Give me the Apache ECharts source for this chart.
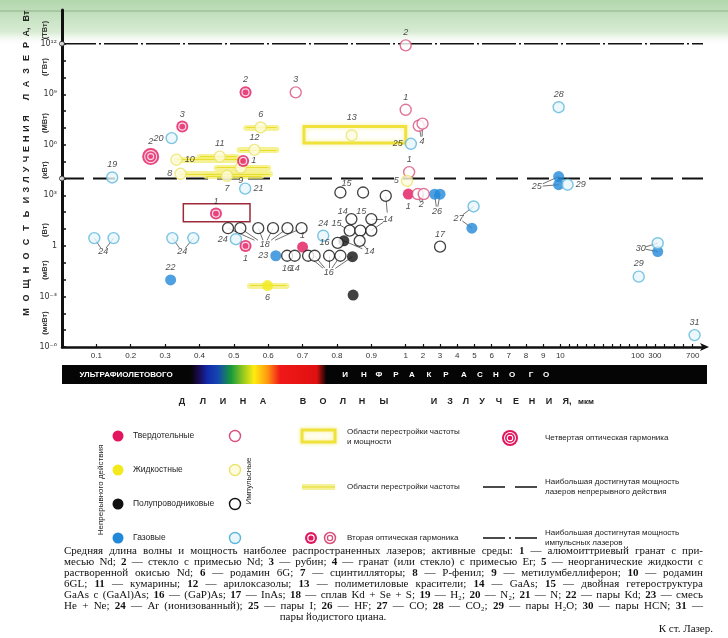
<!DOCTYPE html>
<html><head><meta charset="utf-8">
<script src="https://cdn.jsdelivr.net/npm/echarts@6/dist/echarts.min.js"></script>
<style>html,body{margin:0;padding:0;background:#fff}#c{width:728px;height:638px}</style>
</head><body><div id="c"></div>
<script>
// ================= DATA =================
// x-axis tick labels (wavelength, µm)
const xTickValues = [0.1,0.2,0.3,0.4,0.5,0.6,0.7,0.8,0.9,1,2,3,4,5,6,7,8,9,10,100,300,700];
const xTickLabels = ['0.1','0.2','0.3','0.4','0.5','0.6','0.7','0.8','0.9','1','2','3','4','5','6','7','8','9','10','100','300','700'];
const xMinorTicks = [20,30,40,50,60,70,80,90,200,400,500,600];
// y-axis (power, W)
const yTickValues = [1e-6,1e-3,1,1e3,1e6,1e9,1e12];
const yUnitLabels = ['(мкВт)','(мВт)','(Вт)','(кВт)','(МВт)','(ГВт)','(ТВт)'];
const maxPulsedPower = 1e12;
const maxCwPower = 1e4;

// continuous solid-state (filled)
const cwSolidWl  = [0.70, 1.15];
const cwSolidPow = [0.85, 1200];
const cwSolidId  = ['1', '1'];
// pulsed solid-state (open)
const puSolidWl  = [1.0, 1.0, 1.76, 1.98, 1.2, 1.7, 2.05, 0.68];
const puSolidPow = [8e11, 1.2e8, 1.35e7, 1.8e7, 2.4e4, 1200, 1200, 1.3e9];
const puSolidId  = ['2', '1', '', '', '1', '', '', '3'];
// second optical harmonic
const shgWl  = [0.534, 0.35, 0.527, 0.448, 0.534];
const shgPow = [1.3e9, 1.2e7, 1.1e5, 83, 1.0];
const shgId  = ['2', '3', '1', '1', '1'];
// fourth optical harmonic
const fhgWl  = [0.258];
const fhgPow = [2e5];
const fhgId  = ['2'];
// continuous liquid
const cwLiqWl   = [0.598];
const cwLiqPow  = [4.4e-3];
const cwLiqId   = ['6'];
const cwLiqFrom = [0.547];
const cwLiqTo   = [0.653];
// pulsed liquid
const puLiqWl   = [0.578, 0.459, 0.56, 0.333, 0.345, 0.52, 0.48, 0.843, 1.08];
const puLiqPow  = [1.07e7, 2e5, 5e5, 1.3e5, 1.9e4, 4.4e4, 1.45e4, 3.6e6, 7.2e3];
const puLiqId   = ['6', '11', '12', '10', '8', '9', '7', '', '5'];
const puLiqFrom = [0.536, 0.401, 0.517, 0.333, 0.345, 0.45, 0.42, null, null];
const puLiqTo   = [0.624, 0.508, 0.624, 0.52, 0.605, 0.60, 0.58, null, null];
// regions of frequency + power tuning
const regionId      = ['13', '1'];
const regionWlFrom  = [0.704, 0.353];
const regionWlTo    = [1.0, 0.547];
const regionPowFrom = [1.26e6, 27.5];
const regionPowTo   = [1.23e7, 316];
// continuous semiconductor
const cwSemiWl  = [0.82, 0.845, 0.847];
const cwSemiPow = [2.0, 0.23, 1.2e-3];
const cwSemiId  = ['', '', ''];
// pulsed semiconductor
const puSemiWl  = [0.483,0.519,0.571,0.614,0.656,0.697, 0.655,0.677, 0.716,0.735,0.777,0.81, 0.802, 0.842,0.837,0.868,0.9,0.9,0.866, 0.81,0.876, 0.942, 3.0];
const puSemiPow = [11.2,11.2,11.2,11.2,11.2,11.2, 0.26,0.26, 0.26,0.26,0.26,0.26, 1.5, 39,8.1,8.1,39,8.1,2.0, 1480,1480, 930, 0.9];
const puSemiId  = ['','','','','','', '16','14', '','','','', '16', '','','','','','', '','', '', '17'];
// continuous gas
const cwGasWl  = [0.316, 0.622, 2.68, 3.0, 4.85, 9.9, 9.9, 330];
const cwGasPow = [9.5e-3, 0.26, 1175, 1175, 11.2, 1.3e4, 4.3e3, 0.46];
const cwGasId  = ['22', '23', '', '', '', '', '', ''];
// pulsed gas
const puGasWl  = [0.094, 0.15, 0.321, 0.382, 0.506, 0.76, 0.146, 0.319, 0.533, 1.3, 4.95, 9.9, 18.4, 330, 112, 720];
const puGasPow = [2.9, 2.9, 2.9, 2.9, 2.5, 4.0, 1.15e4, 2.5e6, 2.5e3, 1.15e6, 220, 1.7e8, 4.3e3, 1.45, 0.015, 5.1e-6];
const puGasId  = ['', '', '', '', '24', '24', '19', '20', '21', '25', '', '28', '29', '', '29', '31'];

// shared labels for groups of points
const groupText = ['24','24','18','16','14','14','2','4','26','27','25','30','15','14','15','15','13'];
const groupMembers = [
  [['puGas',0],['puGas',1]], [['puGas',2],['puGas',3]],
  [['puSemi',0],['puSemi',1],['puSemi',2],['puSemi',3],['puSemi',4],['puSemi',5]],
  [['puSemi',8],['puSemi',9],['puSemi',10],['puSemi',11],['cwSemi',1]],
  [['puSemi',18],['cwSemi',0]],
  [['puSemi',16],['puSemi',17],['puSemi',21]],
  [['puSolid',5],['puSolid',6]], [['puSolid',2],['puSolid',3]],
  [['cwGas',2],['cwGas',3]], [['cwGas',4],['puGas',10]], [['cwGas',5],['cwGas',6]],
  [['cwGas',7],['puGas',13]], [], [], [], [['puSemi',14]], []
];

// ================= LAYOUT (label placement, not data) =================
const cwSolidLbl = ['top','bottom'];
const puSolidLbl = ['top','top','','','top','','','top'];
const shgLbl = ['top','top','right','top','bottom'];
const puLiqLbl = ['top','top','top','right','left','bottom','bottom','','left'];
const puSemiLbl = ['','','','','','','bottom','bottom','','','','','left','','','','','','','','','','top'];
const cwGasLbl = ['top','left','','','','','',''];
const puGasLbl = ['','','','','left','top','top','left','right','left','','top','right','','top','top'];
const groupAt = [[0.12,0.44],[0.35,0.44],[0.59,1.15],[0.776,0.025],[0.895,0.44],[0.948,39],[1.9,275],[1.95,1.6e6],[2.82,110],[4.08,45],[8.62,3300],[136,0.72],[0.828,5400],[0.817,105],[0.871,105],[0.799,22],[0.843,4e7]];

// piecewise wavelength axis (as printed)
const WL_BREAKS  = [0, 0.9, 1, 10, 100, 300, 700, 1000];
const POS_BREAKS = [0, 9, 10, 14.5, 16.75, 17.25, 18.35, 19.175];
const X_MAX = 18.65;
function wl2x(w){
  for (let i=1;i<WL_BREAKS.length;i++){
    if (w<=WL_BREAKS[i] || i===WL_BREAKS.length-1){
      const t=(w-WL_BREAKS[i-1])/(WL_BREAKS[i]-WL_BREAKS[i-1]);
      return POS_BREAKS[i-1]+t*(POS_BREAKS[i]-POS_BREAKS[i-1]);
    }
  }
}

const SETS = {
  cwSolid:[cwSolidWl,cwSolidPow], puSolid:[puSolidWl,puSolidPow],
  cwSemi:[cwSemiWl,cwSemiPow], puSemi:[puSemiWl,puSemiPow],
  cwGas:[cwGasWl,cwGasPow], puGas:[puGasWl,puGasPow]
};

const CRIMSON='#e2165e', PINK='#d94f7c', YEL='#f2ea1c', YEL_O='#ece36a', BLK='#111', BLUE='#2288d8', LBLUE='#5cb6dc', LBLUE_F='#e9f6fb';

function pts(wl,pow,ids,lbl){
  return wl.map((w,i)=>({value:[wl2x(w),pow[i]],
    label:{show:!!(ids&&ids[i]), formatter:(ids&&ids[i])||'', position:(lbl&&lbl[i])||'top'}}));
}
const LBL = {fontSize:9, fontStyle:'italic', color:'#222', fontFamily:'Liberation Sans', distance:2};
function sc(data,size,style,z){
  return {type:'scatter', data, symbol:'circle', symbolSize:size, itemStyle:style,
    label:Object.assign({show:false},LBL), emphasis:{disabled:true}, silent:true, z:z||3, animation:false};
}

// bars (frequency tuning)
const bars = [];
puLiqWl.forEach((w,i)=>{ if(puLiqFrom[i]!=null) bars.push([[wl2x(puLiqFrom[i]),puLiqPow[i]],[wl2x(puLiqTo[i]),puLiqPow[i]]]); });
cwLiqWl.forEach((w,i)=>{ bars.push([[wl2x(cwLiqFrom[i]),cwLiqPow[i]],[wl2x(cwLiqTo[i]),cwLiqPow[i]]]); });

// leader lines
const leaders = [];
groupMembers.forEach((mem,g)=>{
  const lx = wl2x(groupAt[g][0]), ly = groupAt[g][1];
  mem.forEach(([k,i])=>{
    const x1 = wl2x(SETS[k][0][i]), y1 = SETS[k][1][i];
    const t = 0.72;
    leaders.push({coords:[[x1,y1],[x1+(lx-x1)*t, y1*Math.pow(ly/y1,t)]]});
  });
});
const groupPts = groupText.map((t,g)=>({value:[wl2x(groupAt[g][0]),groupAt[g][1]], label:{show:true, formatter:t, position:'inside'}}));

const regionAreas = regionId.map((id,i)=>[
  {coord:[wl2x(regionWlFrom[i]),regionPowFrom[i]], itemStyle: i===0
     ? {color:'rgba(255,255,255,0)', borderColor:'#efe23a', borderWidth:3, shadowBlur:5, shadowColor:'#f6f09a'}
     : {color:'rgba(255,255,255,0)', borderColor:'#9c2a3a', borderWidth:1.5}},
  {coord:[wl2x(regionWlTo[i]),regionPowTo[i]]}
]);

const SUP = {'0':'⁰','1':'¹','2':'²','3':'³','4':'⁴','5':'⁵','6':'⁶','7':'⁷','8':'⁸','9':'⁹','-':'⁻'};
function yFmt(v){ const e=Math.round(Math.log10(v)); if(e===0) return '1'; return '10'+String(e).split('').map(c=>SUP[c]).join(''); }
const xPosLabel = {};
xTickValues.forEach((v,i)=>{ xPosLabel[wl2x(v).toFixed(4)] = xTickLabels[i]; });
const decades = []; for(let e=-6;e<=12;e++) decades.push(Math.pow(10,e));

// ================= GRAPHICS (legend, captions) =================
const G = [];
function txt(x,y,text,o){ o=o||{}; return {type:'text', x, y, rotation:o.rot||0, silent:true, z:o.z||5,
  style:{text, fill:o.fill||'#222', fontSize:o.fs||8, fontFamily:o.ff||'Liberation Sans', fontWeight:o.fw||'normal', fontStyle:o.fst||'normal',
  align:o.align||'left', verticalAlign:o.va||'middle'}}; }
function circ(cx,cy,r,fill,stroke,lw){ return {type:'circle', silent:true, z:5, shape:{cx,cy,r}, style:{fill:fill||'none', stroke:stroke||'none', lineWidth:lw||1}}; }
function spaced(x,y,letters,step,o){ letters.forEach((l,i)=>{ G.push(txt(o&&o.vertical?x:x+i*step, o&&o.vertical?y-i*step:y, l, Object.assign({align:'center'},o||{}))); }); }

// top scan band
G.push({type:'rect', silent:true, z:0, shape:{x:0,y:0,width:728,height:46},
  style:{fill:new echarts.graphic.LinearGradient(0,0,0,1,[{offset:0,color:'#b2d6ad'},{offset:0.7,color:'#d8ecd4'},{offset:1,color:'rgba(255,255,255,0)'}])}});
G.push({type:'line', silent:true, z:0, shape:{x1:0,y1:11,x2:728,y2:11}, style:{stroke:'#9fbf9a', lineWidth:1.5}});

// y title
const vt = {vertical:true, rot:Math.PI/2, fw:'bold', fs:9, fill:'#222'};
spaced(27,312,'МОЩНОСТЬ'.split(''),14,vt);
spaced(27,200,'ИЗЛУЧЕНИЯ'.split(''),10.2,vt);
spaced(27,97,['Л','А','З','Е','Р','А,'],13,vt);
G.push(txt(27,16,'Вт',{rot:Math.PI/2, fw:'bold', fs:9, align:'center'}));
// y units
const unitY = [323,270,230,170,123,67,30];
yUnitLabels.forEach((u,i)=>G.push(txt(45,unitY[i],u,{rot:Math.PI/2, fs:7.5, align:'center', fw:'bold', fill:'#333'})));

// spectrum strip
G.push({type:'rect', silent:true, z:1, shape:{x:62,y:365,width:645,height:19},
  style:{fill:new echarts.graphic.LinearGradient(0,0,1,0,[
    {offset:0,color:'#050505'},{offset:0.2,color:'#050505'},{offset:0.212,color:'#1a0a50'},{offset:0.225,color:'#1228a8'},
    {offset:0.242,color:'#1548b0'},{offset:0.262,color:'#169a3a'},{offset:0.282,color:'#9ccc20'},{offset:0.298,color:'#ffec10'},
    {offset:0.318,color:'#ff9a10'},{offset:0.338,color:'#f01818'},{offset:0.395,color:'#e01010'},{offset:0.41,color:'#050505'},{offset:1,color:'#050505'}])}});
G.push(txt(126,374.5,'УЛЬТРАФИОЛЕТОВОГО',{fill:'#fff', fs:8, fw:'bold', align:'center'}));
const irx=[345,364,379,396,412,429,446,464,480,496,512,531,546];
'ИНФРАКРАСНОГО'.split('').forEach((l,i)=>G.push(txt(irx[i],374.5,l,{fill:'#fff', fs:8, fw:'bold', align:'center'})));
// x title
const xtl = [['Д',182],['Л',203],['И',223],['Н',243],['А',263],['В',303],['О',323],['Л',343],['Н',362],['Ы',384],
  ['И',434],['З',450],['Л',466],['У',482],['Ч',499],['Е',516],['Н',532],['И',549],['Я,',567]];
xtl.forEach(([l,x])=>G.push(txt(x,401.5,l,{fs:9, fw:'bold', align:'center'})));
G.push(txt(578,401.5,'мкм',{fs:8, fw:'bold'}));

// legend
const LY=[436,470,504,538];
const fills=[CRIMSON,YEL,BLK,BLUE];
const opens=[[ '#fff',PINK],[ '#fdfbe0',YEL_O],['#fff',BLK],[LBLUE_F,LBLUE]];
const names=['Твердотельные','Жидкостные','Полупроводниковые','Газовые'];
LY.forEach((y,i)=>{
  G.push(circ(118,y,5.5,fills[i]));
  G.push(txt(133,y,names[i],{fs:8.5}));
  G.push(circ(235,y,5.5,opens[i][0],opens[i][1],1.4));
});
G.push(txt(101,490,'Непрерывного действия',{rot:Math.PI/2, fs:8, align:'center'}));
G.push(txt(249,481,'Импульсные',{rot:Math.PI/2, fs:8, align:'center'}));
G.push({type:'rect', silent:true, z:5, shape:{x:302,y:430,width:33,height:12}, style:{fill:'#fffef2', stroke:'#efe23a', lineWidth:3, shadowBlur:4, shadowColor:'#f6f09a'}});
G.push(txt(347,432,'Области перестройки частоты',{fs:8}));
G.push(txt(347,442,'и мощности',{fs:8}));
G.push({type:'line', silent:true, z:5, shape:{x1:302,y1:487,x2:335,y2:487}, style:{stroke:'#f3ee80', lineWidth:6, opacity:0.8}});
G.push({type:'line', silent:true, z:5, shape:{x1:302,y1:487,x2:335,y2:487}, style:{stroke:'#e6dc2a', lineWidth:1}});
G.push(txt(347,487,'Области перестройки частоты',{fs:8}));
G.push(circ(311,538,6,CRIMSON)); G.push(circ(311,538,3.2,'none','#fff',1.2));
G.push(circ(330,538,5.5,'#fff',PINK,1.5)); G.push(circ(330,538,2.6,'none',PINK,1.3));
G.push(txt(347,538,'Вторая оптическая гармоника',{fs:8}));
G.push(circ(510,438,8,CRIMSON)); G.push(circ(510,438,5.5,'none','#fff',1.1)); G.push(circ(510,438,2.8,'none','#fff',1.1));
G.push(txt(545,438,'Четвертая оптическая гармоника',{fs:8}));
G.push({type:'line', silent:true, z:5, shape:{x1:483,y1:487,x2:537,y2:487}, style:{stroke:'#111', lineWidth:1.5, lineDash:[22,10]}});
G.push(txt(545,482,'Наибольшая достигнутая мощность',{fs:8}));
G.push(txt(545,492,'лазеров непрерывного действия',{fs:8}));
G.push({type:'line', silent:true, z:5, shape:{x1:483,y1:538,x2:537,y2:538}, style:{stroke:'#111', lineWidth:1.5, lineDash:[22,4,2,4]}});
G.push(txt(545,533,'Наибольшая достигнутая мощность',{fs:8}));
G.push(txt(545,543,'импульсных лазеров',{fs:8}));

// caption (justified)
const captionLines = [
 'Средняя длина волны и мощность наиболее распространенных лазеров; активные среды: **1** — алюмоиттриевый гранат с при-',
 'месью Nd; **2** — стекло с примесью Nd; **3** — рубин; **4** — гранат (или стекло) с примесью Er; **5** — неорганические жидкости с',
 'растворенной окисью Nd; **6** — родамин 6G; **7** — сцинтилляторы; **8** — Р-фенил; **9** — метилумбеллиферон; **10** — родамин',
 '6GL; **11** — кумарины; **12** — арилоксазолы; **13** — полиметиловые красители; **14** — GaAs; **15** — двойная гетероструктура',
 'GaAs с (GaAl)As; **16** — (GaP)As; **17** — InAs; **18** — сплав Kd + Se + S; **19** — H₂; **20** — N₂; **21** — N; **22** — пары Kd; **23** — смесь',
 'He + Ne; **24** — Ar (ионизованный); **25** — пары I; **26** — HF; **27** — CO; **28** — CO₂; **29** — пары H₂O; **30** — пары HCN; **31** —'
];
const CAP_FS = 11, CAP_X0 = 64, CAP_W = 639, CAP_Y0 = 551, CAP_LH = 11.1;
const meas = document.createElement('canvas').getContext('2d');
function wW(t,b){ meas.font=(b?'bold ':'')+CAP_FS+'px "Liberation Serif"'; return meas.measureText(t).width; }
captionLines.forEach((line,li)=>{
  const toks = line.split(' ').map(t=>{ const b=/^\*\*.*\*\*$/.test(t); return {t:b?t.slice(2,-2):t, b}; });
  const ws = toks.map(k=>wW(k.t,k.b));
  const sum = ws.reduce((a,b)=>a+b,0);
  let gap = (CAP_W-sum)/(toks.length-1), sx=1;
  if (gap<1.8){ gap=1.8; sx = CAP_W/(sum+gap*(toks.length-1)); }
  let x = CAP_X0;
  toks.forEach((k,i)=>{
    const el = txt(x, CAP_Y0+li*CAP_LH, k.t, {ff:'Liberation Serif', fs:CAP_FS, fw:k.b?'bold':'normal', fill:'#111'});
    el.scaleX = sx; el.originX = x;
    G.push(el);
    x += (ws[i]+gap)*sx;
  });
});
G.push(txt(333,CAP_Y0+6*CAP_LH,'пары йодистого циана.',{ff:'Liberation Serif', fs:CAP_FS, fill:'#111', align:'center'}));
G.push(txt(713,629,'К ст. Лазер.',{ff:'Liberation Serif', fs:CAP_FS, fill:'#111', align:'right'}));

// ================= CHART =================
const chart = echarts.init(document.getElementById('c'));
chart.setOption({
  animation:false,
  backgroundColor:'#fff',
  grid:{left:62, right:25, top:10, bottom:291, containLabel:false, outerBoundsMode:'none'},
  xAxis:{type:'value', min:0, max:X_MAX, splitLine:{show:false},
    axisLine:{show:true, onZero:false, symbol:['none','arrow'], symbolSize:[6,9], symbolOffset:[0,6], lineStyle:{color:'#111', width:2.5}},
    axisTick:{show:true, inside:true, length:3, lineStyle:{color:'#111', width:1.2}, customValues: xTickValues.concat(xMinorTicks).map(wl2x)},
    axisLabel:{show:true, customValues: xTickValues.map(wl2x), formatter:v=>xPosLabel[v.toFixed(4)]||'', fontSize:8, color:'#333', margin:5, fontFamily:'Liberation Sans'}},
  yAxis:{type:'log', logBase:10, min:1e-6, max:1e14, splitLine:{show:false},
    axisLine:{show:true, lineStyle:{color:'#111', width:3}},
    axisTick:{show:true, inside:true, length:4, lineStyle:{color:'#111', width:1.5}, customValues: decades},
    axisLabel:{show:true, customValues: yTickValues, formatter:yFmt, fontSize:8, color:'#333', margin:5, fontFamily:'DejaVu Sans'}},
  graphic: G,
  series:[
    {type:'line', data:[[0,maxPulsedPower],[X_MAX,maxPulsedPower]], symbol:'none', silent:true, z:1, lineStyle:{color:'#111', width:1.4, type:[34,3,2,3]}},
    {type:'line', data:[[0,maxCwPower],[X_MAX,maxCwPower]], symbol:'none', silent:true, z:1, lineStyle:{color:'#111', width:2, type:[22,9]}},
    sc([{value:[0,maxPulsedPower]},{value:[0,maxCwPower]}],5,{color:'#fff',borderColor:'#111',borderWidth:1},4),
    {type:'lines', coordinateSystem:'cartesian2d', data:bars.map(c=>({coords:c})), silent:true, z:2, lineStyle:{color:'#f3ee70', width:6, opacity:0.75, cap:'round'}},
    {type:'lines', coordinateSystem:'cartesian2d', data:bars.map(c=>({coords:c})), silent:true, z:2, lineStyle:{color:'#e8de2c', width:1.2, opacity:1}},
    {type:'lines', coordinateSystem:'cartesian2d', data:leaders, silent:true, z:2, lineStyle:{color:'#333', width:0.7, opacity:1}},
    // continuous
    sc(pts(cwSolidWl,cwSolidPow,cwSolidId,cwSolidLbl),11,{color:CRIMSON}),
    sc(pts(cwLiqWl,cwLiqPow,cwLiqId,['bottom']),11,{color:YEL}),
    sc(pts(cwSemiWl,cwSemiPow,cwSemiId,null),11,{color:BLK}),
    sc(pts(cwGasWl,cwGasPow,cwGasId,cwGasLbl),11,{color:BLUE}),
    // pulsed
    sc(pts(puSolidWl,puSolidPow,puSolidId,puSolidLbl),11,{color:'#fff',borderColor:PINK,borderWidth:1.4}),
    Object.assign(sc(pts(puLiqWl,puLiqPow,puLiqId,puLiqLbl),11,{color:'#fdfbe0',borderColor:YEL_O,borderWidth:1.4}),
      {markArea:{silent:true, data:[regionAreas[0]]}}),
    sc(pts(puSemiWl,puSemiPow,puSemiId,puSemiLbl),11,{color:'#fff',borderColor:BLK,borderWidth:1.3}),
    sc(pts(puGasWl,puGasPow,puGasId,puGasLbl),11,{color:LBLUE_F,borderColor:LBLUE,borderWidth:1.4}),
    // harmonics
    Object.assign(sc(pts(shgWl,shgPow,shgId,shgLbl),12,{color:CRIMSON}),{markArea:{silent:true, data:[regionAreas[1]]}}),
    sc(pts(shgWl,shgPow),7,{color:'rgba(0,0,0,0)',borderColor:'#fff',borderWidth:1.2},4),
    sc(pts(fhgWl,fhgPow,fhgId,['top']),17,{color:CRIMSON}),
    sc(pts(fhgWl,fhgPow),12,{color:'rgba(0,0,0,0)',borderColor:'#fff',borderWidth:1.1},4),
    sc(pts(fhgWl,fhgPow),6,{color:'rgba(0,0,0,0)',borderColor:'#fff',borderWidth:1.1},4),
    // group labels
    Object.assign(sc(groupPts,1,{color:'rgba(0,0,0,0)'},5),{label:Object.assign({show:true},LBL)})
  ]
});
</script></body></html>
